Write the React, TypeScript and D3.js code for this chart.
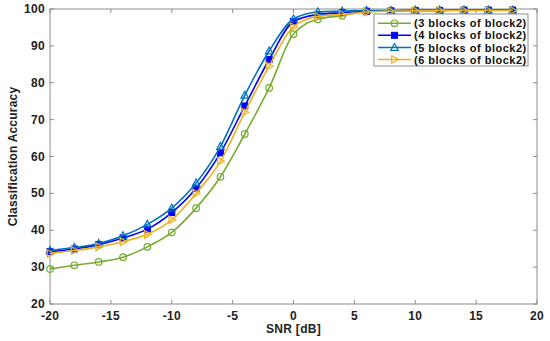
import React from "react";
import * as d3 from "d3";

const snr = [-20, -18, -16, -14, -12, -10, -8, -6, -4, -2, 0, 2, 4, 6, 8, 10, 12, 14, 16, 18];
const acc3 = [29.5, 30.5, 31.4, 32.7, 35.5, 39.4, 46.0, 54.5, 66.1, 78.6, 93.2, 97.2, 98.2, 99.3, 99.5, 99.6, 99.6, 99.7, 99.7, 99.7];
const acc4 = [34.2, 34.9, 36.1, 37.9, 40.3, 44.8, 51.4, 61.0, 73.7, 86.3, 96.6, 98.5, 99.0, 99.4, 99.5, 99.6, 99.6, 99.7, 99.7, 99.7];
const acc5 = [34.5, 35.3, 36.4, 38.5, 41.6, 46.0, 52.8, 62.7, 76.6, 88.6, 97.3, 99.2, 99.4, 99.6, 99.6, 99.7, 99.7, 99.7, 99.7, 99.7];
const acc6 = [33.7, 34.5, 35.5, 36.9, 38.9, 42.8, 50.0, 58.7, 72.0, 84.5, 95.2, 98.0, 98.5, 99.2, 99.4, 99.5, 99.6, 99.6, 99.6, 99.6];
const seriesNames = ["(3 blocks of block2)", "(4 blocks of block2)", "(5 blocks of block2)", "(6 blocks of block2)"];
const xTicks = [-20, -15, -10, -5, 0, 5, 10, 15, 20];
const yTicks = [20, 30, 40, 50, 60, 70, 80, 90, 100];

const colors = ["#77AC30", "#0000FF", "#0072BD", "#EDB120"];
const markers = ["circle", "square", "triangle", "tright"];

const W = 550, H = 341;
const L = 50, R = 537, T = 9, B = 304;

function Marker({ type, x, y, color }: { type: string; x: number; y: number; color: string }) {
  if (type === "circle") return <circle cx={x} cy={y} r={3.3} fill="none" stroke={color} strokeWidth={1.2} />;
  if (type === "square") return <rect x={x - 3} y={y - 3} width={6} height={6} fill={color} stroke={color} />;
  if (type === "triangle")
    return <path d={`M${x},${y - 4}L${x + 3.8},${y + 2.8}L${x - 3.8},${y + 2.8}Z`} fill="none" stroke={color} strokeWidth={1.2} />;
  return <path d={`M${x + 4},${y}L${x - 2.8},${y + 3.8}L${x - 2.8},${y - 3.8}Z`} fill="none" stroke={color} strokeWidth={1.2} />;
}

export default function App() {
  const x = d3.scaleLinear().domain([-20, 20]).range([L, R]);
  const y = d3.scaleLinear().domain([20, 100]).range([B, T]);
  const data = [acc3, acc4, acc5, acc6];
  const line = d3
    .line<number>()
    .x((_, i) => x(snr[i]))
    .y((d) => y(d))
    .curve(d3.curveMonotoneX);
  const font = "Arial, 'Liberation Sans', sans-serif";
  const axisColor = "#8c8c8c";
  const legX = 374, legY = 14, legW = 154, legH = 52;
  const legRows = [23.3, 35.3, 47.5, 59.5];
  return (
    <svg width={W} height={H} style={{ position: "absolute", left: 0, top: 0 }} fontFamily={font}>
      <rect x={0} y={0} width={W} height={H} fill="#fff" />
      <rect x={L} y={T} width={R - L} height={B - T} fill="none" stroke={axisColor} strokeWidth={1} />
      {xTicks.map((t) => (
        <g key={"x" + t}>
          <line x1={x(t)} x2={x(t)} y1={B} y2={B - 4} stroke={axisColor} />
          <line x1={x(t)} x2={x(t)} y1={T} y2={T + 4} stroke={axisColor} />
          <text x={x(t)} y={316} textAnchor="middle" dominantBaseline="central" fontSize={12} fontWeight="bold" fill="#222" letterSpacing={0.3}>
            {t}
          </text>
        </g>
      ))}
      {yTicks.map((t) => (
        <g key={"y" + t}>
          <line x1={L} x2={L + 4} y1={y(t)} y2={y(t)} stroke={axisColor} />
          <line x1={R} x2={R - 4} y1={y(t)} y2={y(t)} stroke={axisColor} />
          <text x={45} y={y(t)} textAnchor="end" dominantBaseline="central" fontSize={12} fontWeight="bold" fill="#222" letterSpacing={0.3}>
            {t}
          </text>
        </g>
      ))}
      <text x={(L + R) / 2} y={329} textAnchor="middle" dominantBaseline="central" fontSize={12} fontWeight="bold" fill="#222" letterSpacing={0.3}>
        SNR [dB]
      </text>
      <text
        transform={`translate(13,${(T + B) / 2}) rotate(-90)`}
        textAnchor="middle"
        dominantBaseline="central"
        fontSize={12}
        fontWeight="bold"
        fill="#222"
        letterSpacing={0.2}
      >
        Classification Accuracy
      </text>
      {data.map((d, si) => (
        <g key={"s" + si}>
          <path d={line(d) || ""} fill="none" stroke={colors[si]} strokeWidth={1.6} />
          {d.map((v, i) => (
            <Marker key={i} type={markers[si]} x={x(snr[i])} y={y(v)} color={colors[si]} />
          ))}
        </g>
      ))}
      <rect x={legX} y={legY} width={legW} height={legH} fill="#fff" stroke={axisColor} />
      {seriesNames.map((n, i) => (
        <g key={"l" + i}>
          <line x1={378} x2={411} y1={legRows[i]} y2={legRows[i]} stroke={colors[i]} strokeWidth={1.6} />
          <Marker type={markers[i]} x={394.5} y={legRows[i]} color={colors[i]} />
          <text x={414} y={legRows[i]} dominantBaseline="central" fontSize={11} fontWeight="bold" fill="#111" letterSpacing={0.5}>
            {n}
          </text>
        </g>
      ))}
    </svg>
  );
}
